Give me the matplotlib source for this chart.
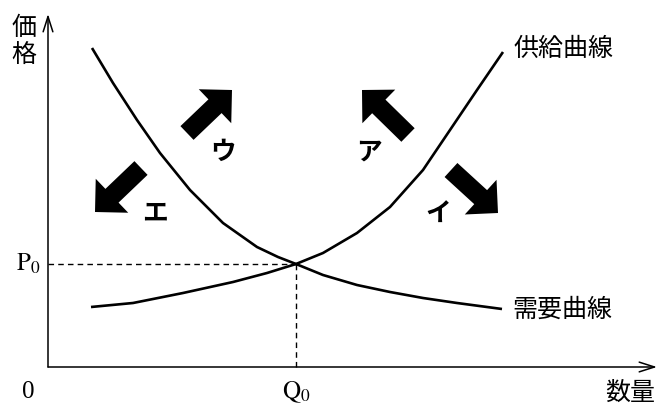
import matplotlib.pyplot as plt
from matplotlib.patches import FancyArrow

plt.rcParams['font.family'] = ['Noto Sans CJK JP', 'DejaVu Sans']
plt.rcParams['mathtext.fontset'] = 'stix'

# curves (quantity, price), origin at the axes corner
supply_q = [43, 85, 135, 185, 219, 248, 275, 309, 342, 375, 402, 429, 455]
supply_p = [60, 64, 74, 85, 94, 103, 114, 134, 160, 197, 237, 277, 315]
demand_q = [44, 65, 89, 112, 142, 175, 209, 230, 248, 275, 309, 342, 375, 409, 454]
demand_p = [319, 284, 247, 214, 177, 144, 120, 110, 103, 92, 82, 75, 69, 64, 58]

q0 = 248
p0 = 103

# shift arrows: label, tail (q, p), tip (q, p), label position
shifts = [
    ('ア', (360, 232), (314, 277), (321, 215)),
    ('イ', (403, 197), (450, 154), (390, 154)),
    ('ウ', (139, 234), (184, 277), (175, 215)),
    ('エ', (93, 199), (47, 155), (107, 154)),
]

fig = plt.figure(figsize=(6.58, 4.08), dpi=100)
ax = fig.add_axes([0, 0, 1, 1])
ax.set_xlim(-48, 610)
ax.set_ylim(-41, 367)
ax.axis('off')

# axes with open arrow heads
ax.annotate('', xy=(0, 353), xytext=(0, 0),
            arrowprops=dict(arrowstyle='->,head_length=1.1,head_width=0.35', lw=1.1, color='black',
                            shrinkA=0, shrinkB=0))
ax.annotate('', xy=(609, 0), xytext=(0, 0),
            arrowprops=dict(arrowstyle='->,head_length=1.1,head_width=0.35', lw=1.1, color='black',
                            shrinkA=0, shrinkB=0))

ax.plot(supply_q, supply_p, color='black', lw=1.9, solid_joinstyle='round', solid_capstyle='butt')
ax.plot(demand_q, demand_p, color='black', lw=1.9, solid_joinstyle='round', solid_capstyle='butt')

ax.plot([0, q0], [p0, p0], color='black', lw=1.0, ls=(0, (4, 3)))
ax.plot([q0, q0], [0, p0], color='black', lw=1.0, ls=(0, (4, 3)))

for lab, tail, tip, pos in shifts:
    ax.add_patch(FancyArrow(tail[0], tail[1], tip[0] - tail[0], tip[1] - tail[1],
                            width=19, head_width=47, head_length=23.5,
                            length_includes_head=True, color='black', lw=0))
    ax.text(pos[0], pos[1], lab, fontsize=18.5, fontweight='bold', ha='center', va='center')

ax.text(-24, 339, '価', fontsize=18, ha='center', va='center')
ax.text(-24, 312, '格', fontsize=18, ha='center', va='center')
ax.text(465, 318, '供給曲線', fontsize=18, ha='left', va='center')
ax.text(464, 57, '需要曲線', fontsize=18, ha='left', va='center')
ax.text(607, -26, '数量', fontsize=18, ha='right', va='center')

ax.text(-20, -25, '0', fontsize=18, ha='center', va='center', family='Liberation Serif')
ax.text(-20, p0, r'$\mathrm{P}_0$', fontsize=18, ha='center', va='center')
ax.text(q0, -25, r'$\mathrm{Q}_0$', fontsize=18, ha='center', va='center')

fig.savefig('out.png', dpi=100)
